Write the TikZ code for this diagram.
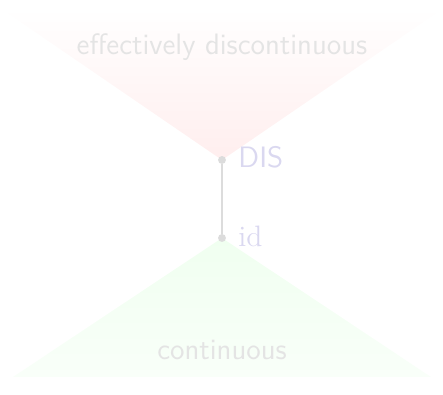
\documentclass[tikz,border=0pt]{standalone}
\usetikzlibrary{shadings}
\definecolor{txtgray}{RGB}{228,228,228}
\definecolor{lav}{RGB}{218,216,240}
\definecolor{dotgray}{RGB}{220,220,220}
\definecolor{redfill}{RGB}{255,238,238}
\definecolor{greenfill}{RGB}{240,255,240}
\tikzset{
  lbl/.style={font=\sffamily\fontsize{12.7}{14}\selectfont, text=txtgray, anchor=base, inner sep=0pt},
  ptlabel/.style={font=\fontsize{12.7}{14}\selectfont, text=lav, anchor=base west, inner sep=0pt},
  pt/.style={circle, fill=dotgray, inner sep=0pt, minimum size=3.4pt}
}
\begin{document}
\begin{tikzpicture}[x=0.43pt, y=-0.43pt]
\useasboundingbox (0,0) rectangle (443,395);
\shade[top color=white, middle color=white!45!redfill, bottom color=redfill, draw=none] (0,8) -- (444,8) -- (222,160) -- cycle;
\shade[top color=greenfill, bottom color=white!60!greenfill, draw=none] (222,238) -- (431,377) -- (13,377) -- cycle;
\node[lbl] (ed) at (222,55) {effectively discontinuous};
\node[lbl] (ct) at (222,360) {continuous};
\node[pt] (dis) at (222,160) {};
\node[pt] (id) at (222,238) {};
\draw[dotgray, line width=0.9pt] (dis) -- (id);
\node[ptlabel, font=\sffamily\fontsize{12.7}{14}\selectfont] (dislbl) at (238,168) {DIS};
\node[ptlabel] (idlbl) at (238,247) {id};
\end{tikzpicture}
\end{document}
